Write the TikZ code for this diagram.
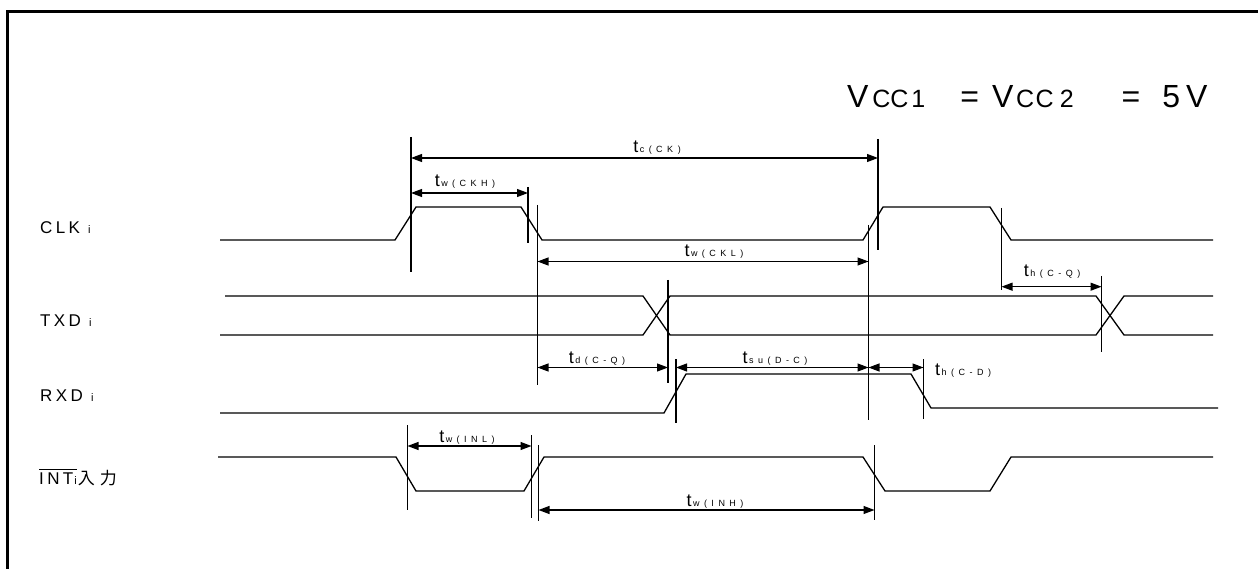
\documentclass[tikz,border=0pt]{standalone}
\usepackage{fontspec}
\setmainfont{Liberation Sans}
\newfontfamily\cjk{Noto Sans CJK JP}
\usetikzlibrary{arrows.meta}
\newcommand\tlab[1]{{\fontsize{18}{18}\selectfont t}\hspace{1.5pt}{\fontsize{9}{9}\selectfont\addfontfeatures{LetterSpace=50}#1}}
\newcommand\ovl[1]{\setbox0\hbox{#1}\rlap{\rule[\dimexpr\ht0+2.5pt\relax]{\wd0}{0.9pt}}\box0}
\newcommand\sigfont{\fontsize{17}{17}\selectfont\addfontfeatures{LetterSpace=20}}
\newcommand\smi{{\fontsize{11}{11}\selectfont i}}
\tikzset{
  wave/.style={line width=1.3pt, line join=miter},
  tick/.style={line width=1.2pt},
  dim/.style={line width=1.1pt, {Triangle[length=11pt,width=8pt]}-{Triangle[length=11pt,width=8pt]}},
  tl/.style={anchor=base, inner sep=0pt},
  sig/.style={anchor=base west, inner sep=0pt, font=\sigfont},
  frame/.style={line width=2.8pt}
}
\begin{document}
\begin{tikzpicture}[x=1pt,y=-1pt]
\useasboundingbox (0,0) rectangle (1258,569);
% frame
\draw[frame] (7.4,569) -- (7.4,11.6) -- (1258,11.6);
% title
\node[anchor=base west, inner sep=0pt] (title) at (847,108)
 {\fontsize{32}{32}\selectfont V\hspace{3.8pt}{\fontsize{25}{25}\selectfont C\hspace{0pt}C\hspace{3pt}1}\hspace{35pt}=\hspace{13pt}V\hspace{2.8pt}{\fontsize{25}{25}\selectfont C\hspace{1.5pt}C\hspace{6pt}2}\hspace{48pt}=\hspace{22pt}5\hspace{6pt}V};
% signal labels
\node[sig] (clk) at (40,233.3) {CLK \smi};
\node[sig] (txd) at (40,326.7) {TXD \smi};
\node[sig] (rxd) at (40,401) {RXD \smi};
\node[sig] (int) at (39,484) {\ovl{INT\hspace{1pt}\smi}\hspace{1pt}{\cjk\fontsize{17}{17}\selectfont 入\hspace{5pt}力}};
% waveforms
\draw[wave] (220,240)--(395,240)--(416,207)--(521,207)--(542,240)--(863,240)--(883,207)--(990,207)--(1011,240)--(1213,240);
\draw[wave] (225,296)--(643,296)--(670,335)--(1096,335)--(1124,296)--(1213,296);
\draw[wave] (220,335)--(643,335)--(670,296)--(1096,296)--(1124,335)--(1213,335);
\draw[wave] (220,413)--(664,413)--(686,374)--(911,374)--(931,408)--(1218,408);
\draw[wave] (218,457)--(396,457)--(416,491)--(524,491)--(544,457)--(863,457)--(885,491)--(990,491)--(1011,457)--(1213,457);
% ticks
\coordinate (a1) at (411,137);   \coordinate (a2) at (411,272);
\coordinate (b1) at (528,187);   \coordinate (b2) at (528,243);
\coordinate (c1) at (537.5,205); \coordinate (c2) at (537.5,385);
\coordinate (d1) at (878,139);   \coordinate (d2) at (878,250);
\coordinate (e1) at (868.5,225); \coordinate (e2) at (868.5,420);
\coordinate (f1) at (1001.5,208);\coordinate (f2) at (1001.5,290);
\coordinate (g1) at (668,280);   \coordinate (g2) at (668,383);
\coordinate (h1) at (1101.5,276);\coordinate (h2) at (1101.5,352);
\coordinate (i1) at (676,359);   \coordinate (i2) at (676,423);
\coordinate (j1) at (923.5,359); \coordinate (j2) at (923.5,419);
\coordinate (k1) at (407.5,425); \coordinate (k2) at (407.5,510);
\coordinate (l1) at (531.5,435); \coordinate (l2) at (531.5,518);
\coordinate (m1) at (538.5,445); \coordinate (m2) at (538.5,521);
\coordinate (n1) at (874.5,445); \coordinate (n2) at (874.5,520);
\foreach \p in {a,b,c,d,e,f,g,h,i,j,k,l,m,n} \draw[tick] (\p1) -- (\p2);
% dimension arrows
\draw[dim] (a1 |- 0,158) -- (d1 |- 0,158);
\node[tl] (ltc) at (657,153) {\tlab{c(CK)}};
\draw[dim] (a1 |- 0,193) -- (b1 |- 0,193);
\node[tl] (ltwh) at (465,187) {\tlab{w(CKH)}};
\draw[dim] (c1 |- 0,261.5) -- (e1 |- 0,261.5);
\node[tl] (ltwl) at (714,257) {\tlab{w(CKL)}};
\draw[dim] (f1 |- 0,286.7) -- (h1 |- 0,286.7);
\node[tl] (lthq) at (1052,277) {\tlab{h(C-Q)}};
\draw[dim] (c1 |- 0,367.5) -- (g1 |- 0,367.5);
\node[tl] (ltd) at (597,363) {\tlab{d(C-Q)}};
\draw[dim] (i1 |- 0,367.5) -- (e1 |- 0,367.5);
\node[tl] (ltsu) at (775,363) {\tlab{su(D-C)}};
\draw[dim] (e1 |- 0,367.5) -- (j1 |- 0,367.5);
\node[anchor=base west, inner sep=0pt] (lthd) at (935,375) {\tlab{h(C-D)}};
\draw[dim] (k1 |- 0,446) -- (l1 |- 0,446);
\node[tl] (ltil) at (467,442) {\tlab{w(INL)}};
\draw[dim] (m1 |- 0,510) -- (n1 |- 0,510);
\node[tl] (ltih) at (715,506) {\tlab{w(INH)}};
\end{tikzpicture}
\end{document}
